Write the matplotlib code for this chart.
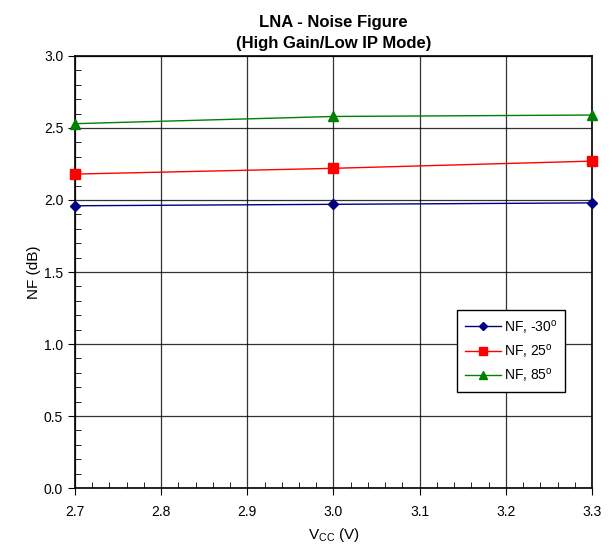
import matplotlib
matplotlib.use('Agg')
import matplotlib.pyplot as plt
from matplotlib.ticker import MultipleLocator

plt.rcParams['font.family'] = ['Liberation Sans', 'DejaVu Sans']
plt.rcParams['mathtext.fontset'] = 'custom'
plt.rcParams['mathtext.rm'] = 'Liberation Sans'
plt.rcParams['mathtext.it'] = 'Liberation Sans'

vcc = [2.7, 3.0, 3.3]
nf_m30 = [1.96, 1.97, 1.98]
nf_25 = [2.18, 2.22, 2.27]
nf_85 = [2.53, 2.58, 2.59]
labels = ['NF, -30$^{\\rm o}$', 'NF, 25$^{\\rm o}$', 'NF, 85$^{\\rm o}$']

fig = plt.figure(figsize=(6.13, 5.5), dpi=100)
ax = fig.add_axes([0.1223, 0.1127, 0.8434, 0.7855])

ax.plot(vcc, nf_m30, color='#000080', marker='D', markersize=5, linewidth=1, label=labels[0], clip_on=False, zorder=3)
ax.plot(vcc, nf_25, color='#ff0000', marker='s', markersize=7, linewidth=1, label=labels[1], clip_on=False, zorder=3)
ax.plot(vcc, nf_85, color='#008000', marker='^', markersize=7, linewidth=1, label=labels[2], clip_on=False, zorder=3)

ax.set_xlim(2.7, 3.3)
ax.set_ylim(0, 3.0)
ax.xaxis.set_major_locator(MultipleLocator(0.1))
ax.xaxis.set_minor_locator(MultipleLocator(0.02))
ax.yaxis.set_major_locator(MultipleLocator(0.5))
ax.yaxis.set_minor_locator(MultipleLocator(0.1))
ax.xaxis.set_major_formatter(plt.FormatStrFormatter('%.1f'))
ax.yaxis.set_major_formatter(plt.FormatStrFormatter('%.1f'))
ax.tick_params(axis='x', which='major', pad=7)
ax.tick_params(which='major', direction='out', length=5, color='black', labelsize=10)
ax.tick_params(which='minor', direction='in', length=4, color='black')
ax.grid(True, which='major', color='black', linewidth=0.9, alpha=0.8)
ax.set_axisbelow(True)
for s in ax.spines.values():
	s.set_linewidth(1.2)

ax.set_xlabel('V$_{\\rm CC}$ (V)', fontsize=11, labelpad=5)
ax.set_ylabel('NF (dB)', fontsize=11, labelpad=2)
ax.set_title('LNA - Noise Figure\n(High Gain/Low IP Mode)', fontsize=12, fontweight='bold',
	pad=6, linespacing=1.5)

leg = ax.legend(loc='upper left', bbox_to_anchor=(0.739, 0.412), borderaxespad=0, fancybox=False,
	framealpha=1, edgecolor='black', fontsize=10, handlelength=2.6, handletextpad=0.25,
	borderpad=0.55, labelspacing=0.45, markerscale=0.85)
leg.get_frame().set_linewidth(1.0)

plt.savefig('out.png', dpi=100)
